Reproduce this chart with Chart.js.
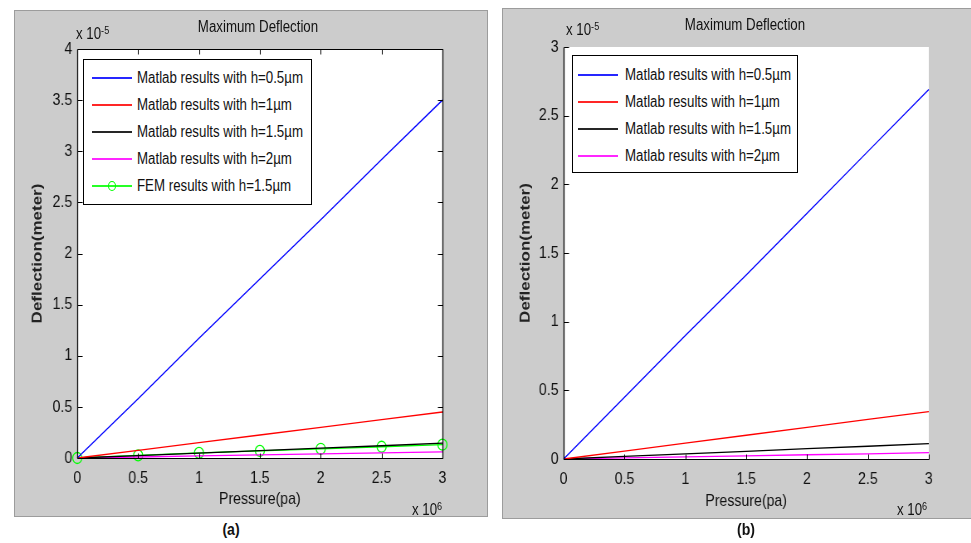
<!DOCTYPE html>
<html>
<head>
<meta charset="utf-8">
<script src="https://cdn.jsdelivr.net/npm/chart.js@4"></script>
<style>
  body { margin: 0; width: 971px; height: 543px; position: relative; background: #fff; overflow: hidden;
         font-family: 'Liberation Sans', Arial, sans-serif; }
  .panel { position: absolute; background: #cccccc; box-sizing: border-box; overflow: hidden; }
  /* the original figure is squeezed horizontally, so the canvas is drawn wide and scaled down */
  .panel canvas { position: absolute; left: 0; top: 0; transform: scaleX(0.83); transform-origin: 0 0; }
  .txt { position: absolute; white-space: nowrap; color: #111; }
  .title { font-size: 16px; line-height: 20px; transform: translateX(-50%) scaleX(0.83); }
  .expo { font-size: 16px; line-height: 20px; transform: scaleX(0.83); transform-origin: 0 0; }
  .expo sup { font-size: 11px; position: relative; top: -4px; vertical-align: top; }
  .caption { font-weight: bold; font-size: 17px; transform: translateX(-50%) scaleX(0.83); }
  .legend { position: absolute; background: #fff; border: 1px solid #000; box-sizing: border-box; }
  .legend .row { position: absolute; left: 0; right: 0; height: 27px; }
  .legend .sample { position: absolute; top: 12px; height: 2px; opacity: 0.85; }
  .legend .mark { position: absolute; width: 8px; height: 10px; border-radius: 50%; box-sizing: border-box; }
  .legend .lbl { position: absolute; top: 3px; font-size: 16px; line-height: 20px; color: #111;
                 white-space: nowrap; transform: scaleX(0.83); transform-origin: 0 0; }
</style>
</head>
<body>

<div class="panel" id="panelA" style="left:14px;top:10px;width:474px;height:507px;border:1px solid #9c9c9c;">
  <canvas id="chartA" width="569" height="505"></canvas>
</div>
<div class="panel" id="panelB" style="left:502px;top:8px;width:469px;height:511px;border:1px solid #9c9c9c;border-right:none;">
  <canvas id="chartB" width="564" height="509"></canvas>
</div>

<div class="txt title" style="left:258px;top:17px;">Maximum Deflection</div>
<div class="txt title" style="left:745px;top:15px;">Maximum Deflection</div>

<div class="txt expo" style="left:76px;top:24px;">x 10<sup>-5</sup></div>
<div class="txt expo" style="left:566px;top:20px;">x 10<sup>-5</sup></div>
<div class="txt expo" style="left:412px;top:500px;">x 10<sup>6</sup></div>
<div class="txt expo" style="left:897px;top:500px;">x 10<sup>6</sup></div>

<div class="txt caption" style="left:231px;top:520px;">(a)</div>
<div class="txt caption" style="left:746px;top:520px;">(b)</div>

<div class="legend" id="legendA" style="left:83px;top:59px;width:229px;height:146px;"></div>
<div class="legend" id="legendB" style="left:572px;top:55px;width:226px;height:118px;"></div>

<script>
// pressure in units of 10^6 Pa, deflection in units of 10^-5 m
const pressure = [0, 0.5, 1, 1.5, 2, 2.5, 3];
const xTicks = [0, 0.5, 1, 1.5, 2, 2.5, 3];

// panel (a)
const aH05 = [0, 0.58, 1.17, 1.75, 2.33, 2.92, 3.5];
const aH1 = [0, 0.075, 0.15, 0.225, 0.3, 0.375, 0.45];
const aH15 = [0, 0.024, 0.048, 0.072, 0.096, 0.12, 0.145];
const aH2 = [0, 0.01, 0.02, 0.03, 0.04, 0.05, 0.06];
const aFem = [0, 0.025, 0.05, 0.07, 0.09, 0.11, 0.13];
const yTicksA = [0, 0.5, 1, 1.5, 2, 2.5, 3, 3.5, 4];

// panel (b)
const bH05 = [0, 0.45, 0.9, 1.34, 1.79, 2.24, 2.69];
const bH1 = [0, 0.058, 0.115, 0.173, 0.23, 0.288, 0.345];
const bH15 = [0, 0.019, 0.037, 0.056, 0.075, 0.093, 0.112];
const bH2 = [0, 0.008, 0.015, 0.023, 0.031, 0.038, 0.046];
const yTicksB = [0, 0.5, 1, 1.5, 2, 2.5, 3];

const seriesLabels = [
  'Matlab results with h=0.5µm',
  'Matlab results with h=1µm',
  'Matlab results with h=1.5µm',
  'Matlab results with h=2µm',
  'FEM results with h=1.5µm'
];
const seriesColors = ['#0000ff', '#ff0000', '#000000', '#ff00ff', '#00ff00'];

const SQ = 0.83; // horizontal squeeze of the canvas
const sans = "'Liberation Sans', Arial, sans-serif";

function toPoints(ys) {
  return ys.map((y, i) => ({ x: pressure[i], y }));
}

function makeDataset(ys, i, withMarkers) {
  return {
    label: seriesLabels[i],
    data: toPoints(ys),
    borderColor: seriesColors[i],
    backgroundColor: 'rgba(0,0,0,0)',
    borderWidth: 1.3,
    pointRadius: withMarkers ? 5.5 : 0,
    pointBorderColor: seriesColors[i],
    pointBorderWidth: 1.3,
    clip: false,
    tension: 0
  };
}

// white axes area, inward ticks and (optionally) full box like matlab
const matlabAxes = {
  id: 'matlabAxes',
  beforeDraw(chart) {
    const { ctx, chartArea: ca } = chart;
    ctx.save();
    ctx.fillStyle = '#fff';
    ctx.fillRect(ca.left, ca.top, ca.width, ca.height);
    ctx.restore();
  },
  afterDatasetsDraw(chart, args, opts) {
    const { ctx, chartArea: ca, scales } = chart;
    const x = scales.x, y = scales.y;
    const L = ca.left + 0.5, R = ca.right + 0.5, T = ca.top + 0.5, B = ca.bottom + 0.5;
    ctx.save();
    ctx.strokeStyle = '#000';
    ctx.lineWidth = 1;
    ctx.beginPath();
    x.ticks.forEach(t => {
      const px = Math.round(x.getPixelForValue(t.value)) + 0.5;
      ctx.moveTo(px, B); ctx.lineTo(px, B - 5);
      if (opts.box) { ctx.moveTo(px, T); ctx.lineTo(px, T + 5); }
    });
    y.ticks.forEach(t => {
      const py = Math.round(y.getPixelForValue(t.value)) + 0.5;
      ctx.moveTo(L, py); ctx.lineTo(L + 6, py);
      if (opts.box) { ctx.moveTo(R, py); ctx.lineTo(R - 6, py); }
    });
    ctx.moveTo(L, B); ctx.lineTo(R, B);
    if (opts.box) { ctx.moveTo(L, T); ctx.lineTo(R, T); }
    ctx.stroke();
    // vertical edges a little wider so they survive the squeeze
    ctx.lineWidth = 1.3;
    ctx.beginPath();
    ctx.moveTo(L, T); ctx.lineTo(L, B);
    if (opts.box) { ctx.moveTo(R, T); ctx.lineTo(R, B); }
    ctx.stroke();
    ctx.restore();
  }
};

function makeChart(canvasId, datasets, yMax, yTicks, layout, box) {
  return new Chart(document.getElementById(canvasId), {
    type: 'line',
    data: { datasets },
    plugins: [matlabAxes],
    options: {
      responsive: false,
      animation: false,
      devicePixelRatio: 1,
      layout: { padding: { left: 0, top: layout.top, right: layout.right, bottom: 0 } },
      plugins: {
        legend: { display: false },
        tooltip: { enabled: false },
        matlabAxes: { box }
      },
      scales: {
        x: {
          type: 'linear', min: 0, max: 3,
          afterBuildTicks: s => { s.ticks = xTicks.map(v => ({ value: v })); },
          afterFit: s => { s.height = layout.xh; },
          grid: { display: false, drawTicks: false },
          border: { display: false },
          ticks: { color: '#111', padding: 10, maxRotation: 0, callback: v => String(v),
                   font: { family: sans, size: 17 } },
          title: { display: true, text: 'Pressure(pa)', color: '#111', padding: { top: 0, bottom: 6 },
                   font: { family: sans, size: 17 } }
        },
        y: {
          type: 'linear', min: 0, max: yMax,
          afterBuildTicks: s => { s.ticks = yTicks.map(v => ({ value: v })); },
          afterFit: s => { s.width = layout.yw; },
          grid: { display: false, drawTicks: false },
          border: { display: false },
          ticks: { color: '#111', padding: 6, callback: v => String(v),
                   font: { family: sans, size: 17 } },
          title: { display: true, text: 'Deflection(meter)', color: '#222', padding: { top: 17, bottom: 0 },
                   font: { family: sans, size: 17, weight: 'bold' } }
        }
      }
    }
  });
}

// layout values are in unsqueezed canvas pixels
makeChart('chartA', [
  makeDataset(aH05, 0, false),
  makeDataset(aH1, 1, false),
  makeDataset(aH15, 2, false),
  makeDataset(aH2, 3, false),
  makeDataset(aFem, 4, true)
], 4, yTicksA, { top: 38, right: Math.round(45 / SQ), xh: 58, yw: Math.round(62 / SQ) }, true);

makeChart('chartB', [
  makeDataset(bH05, 0, false),
  makeDataset(bH1, 1, false),
  makeDataset(bH15, 2, false),
  makeDataset(bH2, 3, false)
], 3, yTicksB, { top: 38, right: Math.round(42 / SQ), xh: 59, yw: Math.round(61 / SQ) }, false);

// legends drawn as html boxes on top of the axes
function buildLegend(id, count, sampleLeft, textLeft, firstRow) {
  const box = document.getElementById(id);
  for (let i = 0; i < count; i++) {
    const row = document.createElement('div');
    row.className = 'row';
    row.style.top = (firstRow + i * 27 - 13) + 'px';
    const line = document.createElement('span');
    line.className = 'sample';
    line.style.left = sampleLeft + 'px';
    line.style.width = '40px';
    line.style.background = seriesColors[i];
    row.appendChild(line);
    if (i === 4) {
      const m = document.createElement('span');
      m.className = 'mark';
      m.style.left = (sampleLeft + 16) + 'px';
      m.style.top = '8px';
      m.style.border = '1px solid ' + seriesColors[i];
      row.appendChild(m);
    }
    const t = document.createElement('span');
    t.className = 'lbl';
    t.style.left = textLeft + 'px';
    t.textContent = seriesLabels[i];
    row.appendChild(t);
    box.appendChild(row);
  }
}
buildLegend('legendA', 5, 8, 53, 18);
buildLegend('legendB', 4, 5, 52, 19);
</script>
</body>
</html>
